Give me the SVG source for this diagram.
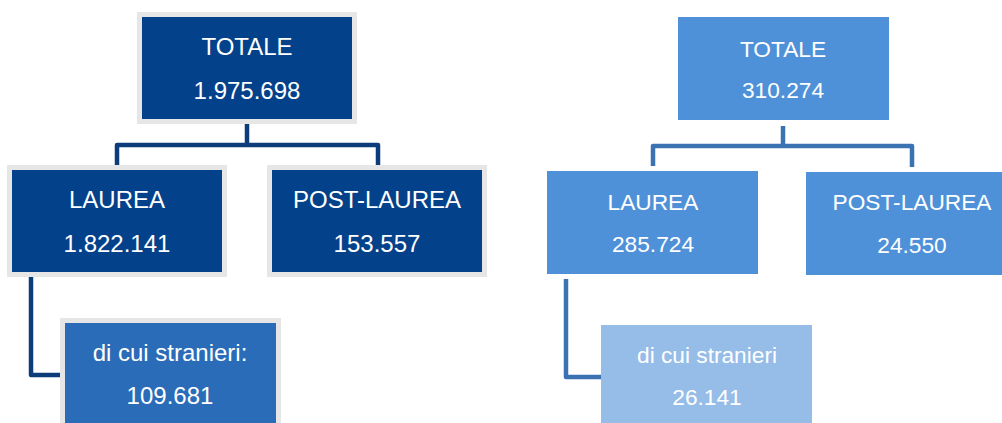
<svg xmlns="http://www.w3.org/2000/svg" width="1002" height="423" viewBox="0 0 1002 423">
<style>
text{font-family:"Liberation Sans",Arial,sans-serif;font-size:24px;fill:#ffffff;text-anchor:middle}
.r text{font-size:22.7px}
.dk{fill:#03428a;stroke:#e6e6e6;stroke-width:5}
.md{fill:#2a6cb8;stroke:#e6e6e6;stroke-width:5}
.lt{fill:#4f91d9}
.xl{fill:#95bde8}
.cd{fill:none;stroke:#0c3d7a;stroke-width:4.5;stroke-linejoin:round}
.cl{fill:none;stroke:#3a72b2;stroke-width:4.5;stroke-linejoin:round}
</style>
<rect width="1002" height="423" fill="#ffffff"/>
<g id="connectors">
<path class="cd" d="M247 124V145M117 167V145H378V167"/>
<path class="cd" d="M31 277V375H62"/>
<path class="cl" d="M783 126V146M653 166V146H912V167"/>
<path class="cl" d="M566 279V377H601"/>
</g>
<g id="totale-l"><rect class="dk" x="139.5" y="14.5" width="215" height="107"/><text x="247" y="55">TOTALE</text><text x="247" y="99">1.975.698</text></g>
<g id="laurea-l"><rect class="dk" x="9.5" y="167.5" width="215" height="107"/><text x="117" y="208">LAUREA</text><text x="117" y="252">1.822.141</text></g>
<g id="postlaurea-l"><rect class="dk" x="269.5" y="167.5" width="215" height="107"/><text x="377" y="208">POST-LAUREA</text><text x="377" y="252">153.557</text></g>
<g id="stranieri-l"><rect class="md" x="62.5" y="320.5" width="216" height="110"/><text x="170" y="361">di cui stranieri:</text><text x="170" y="404">109.681</text></g>
<g id="totale-r" class="r"><rect class="lt" x="678" y="17" width="211" height="103"/><text x="783" y="57">TOTALE</text><text x="783" y="98">310.274</text></g>
<g id="laurea-r" class="r"><rect class="lt" x="547" y="171" width="211" height="103"/><text x="653" y="210">LAUREA</text><text x="653" y="252">285.724</text></g>
<g id="postlaurea-r" class="r"><rect class="lt" x="806" y="172" width="200" height="103"/><text x="912" y="210">POST-LAUREA</text><text x="912" y="253">24.550</text></g>
<g id="stranieri-r" class="r"><rect class="xl" x="601" y="325" width="211" height="100"/><text x="707" y="363">di cui stranieri</text><text x="707" y="405">26.141</text></g>
</svg>
